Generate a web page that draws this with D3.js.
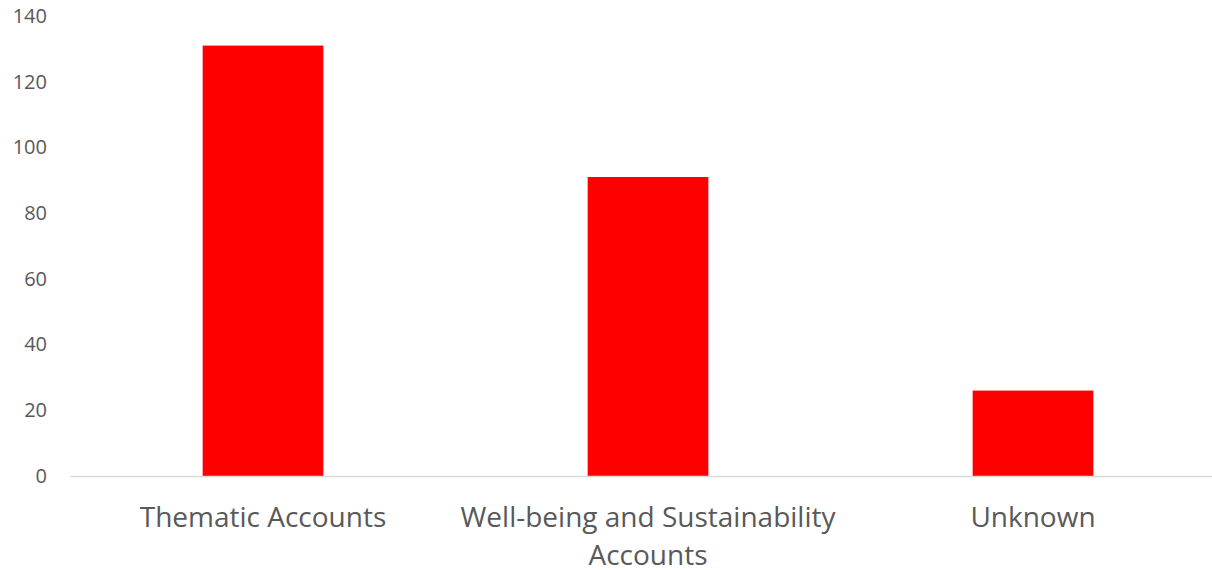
<!DOCTYPE html>
<html>
<head>
<meta charset="utf-8">
<script src="https://cdn.jsdelivr.net/npm/d3@7"></script>
<style>
  html, body { margin: 0; padding: 0; background: #fff; }
  svg { display: block; }
  text { font-family: "Open Sans", "Noto Sans", sans-serif; fill: #595959; }
</style>
</head>
<body>
<svg id="chart" width="1212" height="570"></svg>
<script>
// Records by account type
const categories = ["Thematic Accounts", "Well-being and Sustainability Accounts", "Unknown"];
const counts = [131, 91, 26];
const yTicks = [0, 20, 40, 60, 80, 100, 120, 140];

const svg = d3.select("#chart");
const plot = { left: 70.5, right: 1225.5, top: 16, bottom: 476 };

const x = d3.scaleBand()
  .domain(categories)
  .range([plot.left, plot.right])
  .paddingInner(0.6865)
  .paddingOuter(0.34325);

const y = d3.scaleLinear()
  .domain([0, 140])
  .range([plot.bottom, plot.top]);

// value axis labels (no line, no ticks)
const yAxis = d3.axisLeft(y).tickValues(yTicks).tickSize(0).tickPadding(0);
const gy = svg.append("g")
  .attr("transform", `translate(47,0)`)
  .call(yAxis);
gy.select(".domain").remove();
gy.selectAll("text")
  .attr("font-size", 20)
  .attr("font-family", "'Open Sans', sans-serif")
  .attr("fill", "#595959");

// bars
svg.append("g")
  .selectAll("rect")
  .data(categories.map((c, i) => ({ c, v: counts[i] })))
  .join("rect")
  .attr("x", d => x(d.c))
  .attr("y", d => y(d.v))
  .attr("width", x.bandwidth())
  .attr("height", d => y(0) - y(d.v))
  .attr("fill", "#ff0000");

// category axis line
svg.append("line")
  .attr("x1", plot.left)
  .attr("x2", plot.right)
  .attr("y1", y(0) + 0.5)
  .attr("y2", y(0) + 0.5)
  .attr("stroke", "#d9d9d9")
  .attr("stroke-width", 1.5);

// category labels, wrapped to the band step
const step = x.step();
const labels = svg.append("g")
  .selectAll("text")
  .data(categories)
  .join("text")
  .attr("x", d => x(d) + x.bandwidth() / 2)
  .attr("y", 527)
  .attr("text-anchor", "middle")
  .attr("font-size", 28);

labels.each(function (d) {
  const t = d3.select(this);
  const words = d.split(" ");
  let line = [];
  let tspan = t.append("tspan").attr("x", t.attr("x")).attr("dy", 0);
  words.forEach(w => {
    line.push(w);
    tspan.text(line.join(" "));
    if (tspan.node().getComputedTextLength() > step - 5 && line.length > 1) {
      line.pop();
      tspan.text(line.join(" "));
      line = [w];
      tspan = t.append("tspan").attr("x", t.attr("x")).attr("dy", 38).text(w);
    }
  });
});
</script>
</body>
</html>
